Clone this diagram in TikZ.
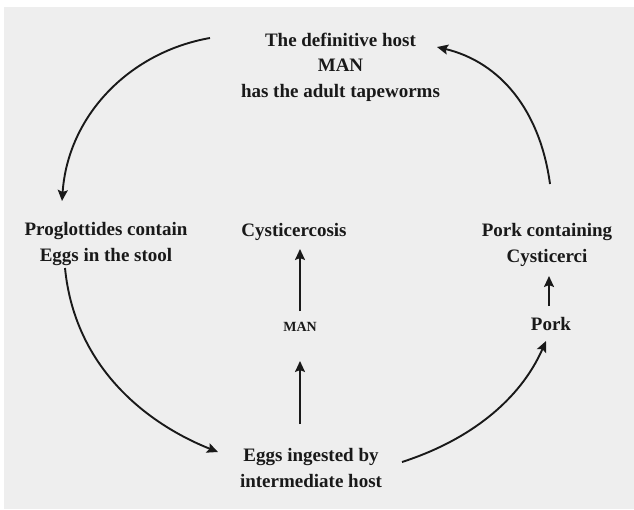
\documentclass[tikz,border=0pt]{standalone}
\usepackage{fontspec}
\setmainfont{Liberation Serif}
\usetikzlibrary{arrows.meta}
\definecolor{paper}{RGB}{238,238,238}
\definecolor{ink}{RGB}{25,25,25}
\tikzset{
  lbl/.style={align=center, inner sep=0pt, text=ink, font=\bfseries\fontsize{19}{25.5}\selectfont},
  smalllbl/.style={inner sep=0pt, text=ink, font=\bfseries\fontsize{14}{16}\selectfont},
  cyc/.style={draw=ink, line width=1.9pt, -{Stealth[length=11pt,width=10pt,inset=2pt]}},
}
\begin{document}
\begin{tikzpicture}[x=1pt,y=-1pt]
\useasboundingbox (0,0) rectangle (634,509);
\fill[paper] (4,7) rectangle (634,509);

\node[lbl] (man) at (340.5,67) {The definitive host\\MAN\\has the adult tapeworms};
\node[lbl] (prog) at (106,244) {Proglottides contain\\Eggs in the stool};
\node[lbl] (cyst) at (294,232) {Cysticercosis};
\node[lbl] (porkc) at (547,245) {Pork containing\\Cysticerci};
\node[lbl] (pork) at (551,324) {Pork};
\node[smalllbl] (sman) at (300,327) {MAN};
\node[lbl] (eggs) at (311,468) {Eggs ingested by\\intermediate host};

\coordinate (a1s) at (210,38);
\coordinate (a1e) at (62,201);
\coordinate (a2s) at (65,268);
\coordinate (a2e) at (218,452);
\coordinate (a3s) at (402,462);
\coordinate (a3e) at (546,341);
\coordinate (a4s) at (550,184);
\coordinate (a4e) at (437,47);

\draw[cyc] (a1s) .. controls (130,52) and (68,115) .. (a1e);
\draw[cyc] (a2s) .. controls (75,370) and (150,425) .. (a2e);
\draw[cyc] (a3s) .. controls (470,440) and (520,400) .. (a3e);
\draw[cyc] (a4s) .. controls (540,110) and (500,62) .. (a4e);

\coordinate (c1s) at (300,311);
\coordinate (c1e) at (300,249);
\coordinate (c2s) at (300,424);
\coordinate (c2e) at (300,361);
\coordinate (p1s) at (549,306);
\coordinate (p1e) at (549,276);
\draw[cyc] (c1s) -- (c1e);
\draw[cyc] (c2s) -- (c2e);
\draw[cyc] (p1s) -- (p1e);
\end{tikzpicture}
\end{document}
